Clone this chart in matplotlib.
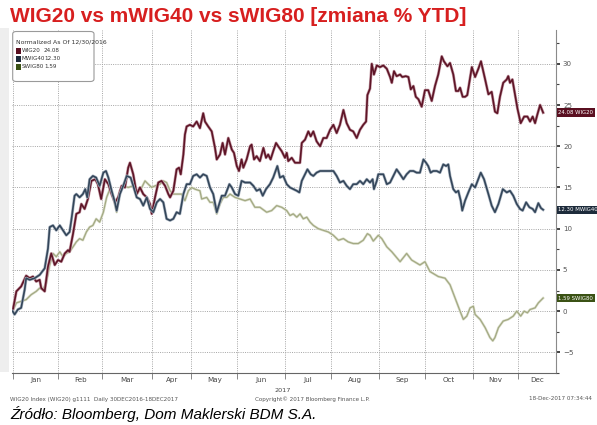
# WIG20 / mWIG40 / sWIG80 YTD % change, Bloomberg style chart

import matplotlib
matplotlib.use("Agg")
import matplotlib.pyplot as plt
import matplotlib.patheffects as pe
import matplotlib.transforms as mtransforms
from matplotlib import font_manager
from matplotlib.patches import FancyBboxPatch, Rectangle

# (trading session since 30 Dec 2016, % change)
wig20 = [
    (0, 0.0), (1.7, 2.4), (3.9, 3.0), (6.2, 4.3), (7.8, 4.0), (9.3, 4.2), (10.8, 3.6),
    (12.4, 3.8), (13.1, 2.8), (14.7, 2.4), (16.2, 5.4), (17.7, 7.0), (19.3, 5.6), (20.8, 6.2),
    (22.3, 6.0), (23.9, 7.0), (25.4, 7.4), (26.1, 7.2), (27.7, 9.4), (29.2, 11.8), (30.7, 12.0),
    (31.5, 13.0), (33.0, 12.4), (34.5, 13.6), (36.1, 15.8), (37.9, 16.0), (39.1, 15.4),
    (40.6, 13.6), (42.3, 16.0), (43.9, 15.4), (45.4, 14.2), (46.9, 13.2), (48.4, 13.8),
    (50.0, 15.2), (51.5, 15.0), (53.0, 17.4), (53.8, 18.0), (55.3, 16.6), (56.9, 14.2),
    (58.4, 15.0), (59.9, 14.2), (61.5, 13.8), (63.0, 13.0), (63.8, 11.8), (65.3, 13.8),
    (66.8, 15.6), (68.3, 15.8), (69.9, 15.2), (71.4, 14.2), (72.2, 13.8), (73.7, 14.6),
    (75.2, 17.2), (76.3, 17.4), (77.1, 16.6), (78.3, 19.0), (79.0, 21.4), (79.8, 22.4),
    (81.3, 22.6), (82.8, 22.4), (84.4, 23.0), (85.9, 22.2), (87.4, 24.0), (88.2, 23.0),
    (89.7, 22.4), (91.3, 21.8), (92.8, 19.8), (93.6, 18.4), (95.1, 19.0), (96.3, 20.4),
    (97.4, 19.0), (98.9, 21.0), (100.5, 19.6), (101.5, 19.2), (102.8, 17.6), (103.8, 17.0),
    (105.0, 18.4), (105.8, 17.4), (107.3, 18.4), (108.9, 20.0), (109.6, 20.2), (110.7, 18.4),
    (111.9, 18.8), (113.4, 18.2), (115.0, 19.8), (116.2, 18.6), (117.2, 19.0), (118.3, 18.4),
    (119.5, 19.4), (120.8, 20.4), (121.8, 20.0), (123.4, 19.4), (124.9, 18.6), (125.7, 19.2),
    (126.4, 18.2), (128.0, 18.6), (129.5, 18.0), (131.8, 18.0), (132.6, 20.4), (134.1, 20.8),
    (135.6, 21.8), (136.7, 21.2), (137.9, 21.8), (139.4, 20.6), (141.0, 20.0), (142.5, 21.0),
    (144.0, 21.0), (145.6, 22.0), (147.1, 22.6), (148.6, 21.6), (150.1, 22.6), (151.7, 24.4),
    (153.2, 22.8), (154.7, 22.0), (156.2, 21.8), (157.8, 21.0), (159.3, 22.0), (160.8, 22.6),
    (162.1, 23.0), (162.7, 26.2), (163.9, 27.0), (164.7, 30.0), (165.7, 28.7), (167.0, 29.8),
    (168.5, 29.6), (170.0, 29.8), (171.6, 29.4), (173.1, 28.4), (173.9, 27.7), (174.9, 29.1),
    (176.1, 28.5), (177.7, 28.7), (178.7, 28.4), (180.3, 28.5), (181.5, 28.4), (182.6, 26.9),
    (183.8, 27.3), (184.9, 26.0), (186.1, 25.7), (187.6, 24.8), (189.1, 26.8), (190.6, 26.8),
    (192.2, 25.5), (193.7, 27.3), (195.2, 28.7), (196.8, 30.9), (197.8, 30.3), (199.4, 29.7),
    (200.6, 30.1), (202.1, 28.7), (203.3, 26.7), (204.4, 26.7), (205.2, 27.1), (206.4, 26.0),
    (207.5, 26.0), (208.5, 26.2), (210.6, 29.6), (212.1, 28.4), (213.6, 29.4), (214.8, 30.3),
    (216.7, 28.1), (218.2, 26.3), (219.7, 26.6), (221.2, 24.2), (222.3, 24.0), (223.5, 26.0),
    (225.0, 27.7), (226.6, 28.1), (227.3, 28.5), (228.1, 27.7), (229.2, 28.1), (230.4, 26.3),
    (231.5, 24.6), (233.0, 22.8), (234.6, 23.6), (236.1, 23.6), (237.3, 23.0), (238.5, 23.6),
    (239.6, 22.8), (240.6, 23.8), (241.9, 25.0), (243.3, 24.08),
]

mwig40 = [
    (0, 0.0), (0.9, -0.4), (2.4, 0.2), (3.9, 0.4), (5.5, 2.6), (6.2, 4.0), (7.8, 3.8),
    (10.1, 4.0), (12.4, 4.4), (14.7, 5.2), (16.2, 7.6), (17.0, 10.2), (18.5, 10.4), (20.0, 9.8),
    (21.6, 10.4), (23.1, 9.8), (24.6, 9.2), (26.1, 9.6), (26.9, 11.0), (28.4, 14.0), (29.2, 14.2),
    (30.7, 13.8), (32.2, 14.2), (33.3, 14.8), (34.2, 13.8), (35.3, 16.0), (36.8, 16.4),
    (38.3, 16.2), (39.9, 15.2), (41.6, 16.8), (42.8, 17.0), (43.9, 16.2), (45.4, 14.6),
    (46.9, 13.2), (47.7, 12.2), (49.2, 14.2), (50.7, 15.2), (52.3, 16.4), (54.1, 16.2),
    (55.3, 15.2), (56.9, 13.8), (58.4, 13.6), (59.9, 12.8), (61.5, 13.8), (63.0, 12.4),
    (64.5, 12.0), (66.1, 13.2), (67.6, 13.6), (69.1, 13.2), (70.6, 11.2), (72.2, 11.0),
    (73.7, 11.2), (75.2, 12.0), (76.7, 11.8), (78.3, 14.2), (79.8, 15.4), (81.3, 15.4),
    (82.8, 16.4), (84.4, 16.6), (85.9, 16.2), (87.4, 16.6), (89.0, 16.4), (90.5, 15.0),
    (92.0, 14.2), (93.6, 12.0), (94.3, 12.6), (95.9, 14.0), (97.4, 14.0), (99.4, 15.4),
    (100.5, 15.0), (102.0, 14.2), (103.5, 14.0), (105.0, 15.8), (106.6, 15.6), (108.9, 15.6),
    (110.4, 15.2), (111.9, 14.6), (113.4, 14.8), (114.7, 14.0), (116.2, 14.8), (118.0, 15.4),
    (119.5, 16.2), (121.4, 17.6), (122.6, 16.2), (124.1, 16.4), (125.7, 15.4), (127.2, 15.0),
    (128.7, 14.8), (130.3, 14.6), (131.5, 14.4), (132.6, 15.8), (134.1, 16.6), (135.2, 17.2),
    (136.7, 16.6), (137.9, 16.4), (139.4, 16.8), (141.0, 17.0), (144.0, 17.0), (147.1, 17.0),
    (148.6, 16.4), (150.1, 15.6), (151.7, 15.8), (153.2, 15.2), (154.7, 14.8), (156.2, 15.4),
    (157.8, 15.4), (159.3, 15.8), (160.8, 15.4), (162.4, 16.0), (163.9, 15.6), (165.1, 16.0),
    (165.7, 14.8), (167.0, 15.8), (167.7, 16.6), (170.0, 16.6), (171.6, 15.4), (173.1, 15.6),
    (174.6, 16.4), (176.1, 17.2), (177.7, 16.6), (179.2, 16.0), (180.7, 16.6), (182.2, 17.0),
    (183.8, 17.0), (185.3, 16.8), (186.8, 16.8), (188.4, 18.4), (189.6, 18.0), (190.6, 17.6),
    (191.7, 16.8), (192.9, 17.0), (194.5, 17.0), (196.0, 16.8), (197.5, 17.8), (198.8, 17.6),
    (199.8, 17.8), (200.6, 16.4), (202.1, 14.8), (203.3, 14.4), (204.4, 14.6), (205.5, 13.4),
    (206.2, 12.2), (207.5, 13.4), (209.0, 14.4), (210.6, 15.4), (212.1, 15.0), (214.7, 16.8),
    (216.2, 16.0), (218.2, 14.2), (219.7, 12.8), (221.2, 12.0), (222.8, 13.0), (224.8, 14.8),
    (226.6, 14.4), (228.1, 14.6), (229.6, 14.0), (231.2, 13.0), (232.7, 12.4), (233.9, 12.2),
    (235.5, 13.2), (237.0, 12.6), (238.5, 12.4), (239.6, 12.0), (241.1, 13.1), (242.3, 12.5),
    (243.3, 12.30),
]

swig80 = [
    (0, 0.0), (1.7, 1.0), (3.9, 1.2), (6.2, 1.4), (8.5, 2.0), (10.8, 2.4), (12.4, 2.8),
    (13.9, 2.6), (15.4, 3.4), (17.0, 5.6), (18.5, 7.0), (20.0, 6.6), (21.6, 7.2), (23.1, 6.6),
    (24.6, 7.0), (26.1, 7.2), (27.7, 7.8), (29.2, 8.4), (30.7, 8.8), (32.2, 8.6), (33.8, 9.6),
    (35.3, 10.2), (36.8, 10.4), (38.3, 11.2), (39.9, 10.8), (41.6, 12.0), (43.1, 13.8),
    (44.6, 14.8), (46.1, 13.8), (47.7, 12.0), (49.2, 14.6), (50.7, 15.2), (53.0, 15.0),
    (55.3, 15.2), (56.9, 14.2), (59.2, 15.0), (60.7, 15.8), (62.2, 15.4), (63.8, 15.0),
    (65.3, 15.2), (67.6, 15.4), (69.1, 15.8), (70.6, 15.6), (72.2, 14.6), (73.7, 14.2),
    (76.0, 14.2), (77.5, 14.2), (79.0, 13.4), (80.6, 14.6), (82.1, 15.0), (83.6, 14.8),
    (85.9, 14.6), (86.7, 13.6), (89.0, 13.8), (90.5, 13.2), (92.0, 13.2), (93.6, 11.8),
    (95.1, 13.0), (96.6, 13.8), (98.2, 13.8), (99.7, 14.2), (102.0, 13.8), (104.3, 13.6),
    (106.6, 13.4), (108.9, 13.6), (111.1, 12.6), (113.4, 12.6), (116.5, 12.0), (118.8, 12.2),
    (121.1, 12.8), (123.4, 12.6), (125.7, 12.2), (127.2, 11.6), (128.7, 11.8), (130.3, 11.4),
    (131.8, 11.8), (133.3, 11.2), (134.9, 11.4), (136.4, 10.8), (137.9, 10.4), (140.2, 10.0),
    (142.5, 9.8), (144.8, 9.6), (147.1, 9.2), (149.4, 8.6), (151.7, 8.8), (153.9, 8.4),
    (156.2, 8.2), (158.5, 8.2), (160.8, 8.6), (162.7, 9.4), (163.9, 9.2), (165.4, 8.5),
    (167.7, 9.2), (169.3, 8.8), (171.6, 7.8), (173.9, 7.2), (177.7, 6.0), (180.7, 7.0),
    (183.0, 6.2), (186.8, 5.6), (189.1, 6.0), (191.4, 4.8), (195.2, 4.2), (198.3, 4.0),
    (200.6, 3.2), (202.9, 1.6), (205.2, 0.0), (206.7, -1.0), (208.3, -0.6), (209.8, 0.4),
    (211.3, 0.6), (212.1, -0.4), (214.4, -1.0), (216.7, -2.0), (218.9, -3.2), (220.2, -3.6),
    (221.2, -3.2), (222.8, -2.0), (225.0, -1.2), (227.3, -1.0), (229.6, -0.6), (231.2, 0.0),
    (233.0, -0.6), (234.6, 0.0), (236.1, -0.2), (237.3, 0.2), (239.6, 0.4), (241.1, 1.0),
    (243.3, 1.59),
]

names = ["WIG20", "MWIG40", "SWIG80"]
last_values = ["24.08", "12.30", "1.59"]
month_starts = [0, 21, 41, 64, 82, 103, 125, 146, 168, 189, 211, 232]
months = ["Jan", "Feb", "Mar", "Apr", "May", "Jun", "Jul", "Aug", "Sep", "Oct", "Nov", "Dec"]

line_colors = ["#5e1527", "#34465a", "#a3a983"]
halo_colors = ["#c49aa5", "#aeb8c4", "#dcdfcc"]
tag_colors = ["#5a0f20", "#1d2b3b", "#3b5215"]

W, H = 597, 425

# pick a narrow font for the tiny Bloomberg texts if one exists
narrow = None
for f in font_manager.fontManager.ttflist:
    if ("Narrow" in f.name or "Condensed" in f.name or f.stretch == "condensed") \
            and f.style == "normal" and f.weight in (400, "normal", "regular"):
        narrow = font_manager.FontProperties(fname=f.fname)
        break
if narrow is None:
    narrow = font_manager.FontProperties(family="Liberation Sans")
small = narrow.get_name()
sc = 1.0 if ("Narrow" in small or "Condensed" in small) else 0.85


def fx(px):
    return px / W


def fy(py):
    return 1 - py / H


fig = plt.figure(figsize=(W / 100, H / 100), dpi=100)
fig.add_artist(Rectangle((0, fy(372)), fx(9), fy(28) - fy(372),
                         transform=fig.transFigure, color="#eeeeee", lw=0, zorder=0))

ax = fig.add_axes([fx(12), fy(373), fx(556) - fx(12), fy(30) - fy(373)])
ax.set_xlim(-0.3, 249.2)
ax.set_ylim(-6.9, 34.1)

for data, c, hc, lw in zip([wig20, mwig40, swig80], line_colors, halo_colors, [1.2, 1.2, 0.9]):
    xs = [p[0] for p in data]
    ys = [p[1] for p in data]
    ax.plot(xs, ys, color=c, lw=lw, zorder=3 if lw > 1 else 2,
            path_effects=[pe.Stroke(linewidth=lw + 0.9, foreground=hc), pe.Normal()])

# grid
for v in range(-5, 31, 5):
    ax.axhline(v, color="#a5a5a5", lw=0.7, ls=(0, (1, 1.3)), zorder=1)
for m in month_starts:
    ax.axvline(m, color="#a5a5a5", lw=0.7, ls=(0, (1, 1.3)), zorder=1)

# axes
for s in ["left", "top"]:
    ax.spines[s].set_visible(False)
ax.spines["right"].set_color("#8a8a8a")
ax.spines["right"].set_linewidth(0.8)
ax.spines["bottom"].set_color("#666666")
ax.spines["bottom"].set_linewidth(0.8)

ax.yaxis.tick_right()
ax.set_yticks(range(-5, 31, 5))
ax.set_yticks([v + 2.5 for v in range(-10, 31, 5)], minor=True)
ax.tick_params(axis="y", which="major", direction="out", length=3, width=1.2,
               color="#222222", labelsize=6 * sc, labelcolor="#555555", pad=2)
ax.tick_params(axis="y", which="minor", direction="out", length=2, width=0.8, color="#444444")
for lab in ax.get_yticklabels():
    lab.set_family(small)

mids = [(a + b) / 2 for a, b in zip(month_starts, month_starts[1:] + [249.2])]
ax.set_xticks(month_starts)
ax.set_xticklabels([""] * len(month_starts))
ax.set_xticks(mids, minor=True)
ax.set_xticklabels(months, minor=True, family=small)
ax.tick_params(axis="x", which="major", direction="out", length=4, width=0.7, color="#888888")
ax.tick_params(axis="x", which="minor", length=0, labelsize=6 * sc, labelcolor="#444444", pad=3)

# value tags on the right
trans = mtransforms.blended_transform_factory(ax.transAxes, ax.transData)
for name, val, tc in zip(names, last_values, tag_colors):
    ax.text(1.004, float(val), f"{val} {name}", transform=trans, ha="left", va="center",
            fontsize=4.6 * sc, color="white", family=small, clip_on=False, zorder=6,
            bbox=dict(boxstyle="square,pad=0.3", fc=tc, ec="none"))

# legend box
fig.add_artist(FancyBboxPatch((fx(12.7), fy(81.5)), fx(94) - fx(12.7), fy(31.5) - fy(81.5),
                              boxstyle="round,pad=0,rounding_size=0.006",
                              transform=fig.transFigure, fc="white", ec="#9a9a9a", lw=0.8,
                              zorder=10))
fig.text(fx(15.5), fy(42), "Normalized As Of 12/30/2016", fontsize=5.2 * sc, color="#333333",
         family=small, va="center", zorder=11)
for i, (name, val, tc) in enumerate(zip(names, last_values, tag_colors)):
    yy = 51 + i * 8
    fig.add_artist(Rectangle((fx(16), fy(yy + 3)), fx(4.5), fy(yy - 3) - fy(yy + 3),
                             transform=fig.transFigure, color=tc, lw=0, zorder=11))
    fig.text(fx(21.5), fy(yy), name, fontsize=4.8 * sc, color="#333333", family=small,
             va="center", zorder=11)
    fig.text(fx(44), fy(yy), val, fontsize=4.8 * sc, color="#333333", family=small,
             va="center", zorder=11)

# texts
fig.text(fx(10), fy(16), "WIG20 vs mWIG40 vs sWIG80 [zmiana % YTD]", color="#d71f1f",
         fontsize=15, fontweight="bold", family="Liberation Sans", va="center")
fig.text(fx(283), fy(390), "2017", fontsize=5.5 * sc, color="#444444", family=small,
         ha="center", va="center")
fig.text(fx(10), fy(399), "WIG20 Index (WIG20) g1111  Daily 30DEC2016-18DEC2017",
         fontsize=4.8 * sc, color="#555555", family=small, va="center")
fig.text(fx(312), fy(399), "Copyright\u00a9 2017 Bloomberg Finance L.P.",
         fontsize=4.8 * sc, color="#555555", family=small, ha="center", va="center")
fig.text(fx(592), fy(399), "18-Dec-2017 07:34:44", fontsize=4.8 * sc, color="#555555",
         family=small, ha="right", va="center")
fig.text(fx(10), fy(414), "\u0179r\u00f3d\u0142o: Bloomberg, Dom Maklerski BDM S.A.",
         fontsize=11, style="italic", family="Liberation Sans", color="black", va="center")

fig.savefig("out.png", dpi=100)
